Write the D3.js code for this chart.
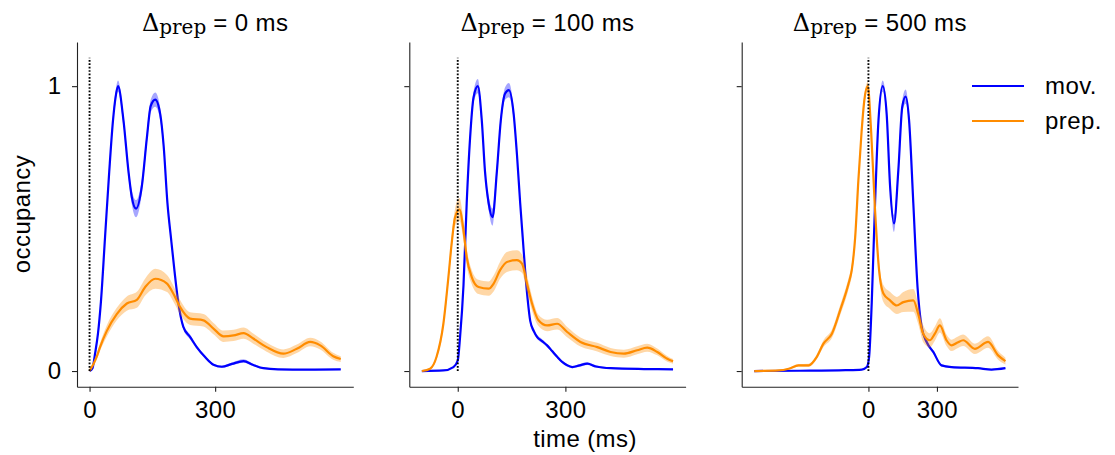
<!DOCTYPE html>
<html>
<head>
<meta charset="utf-8">
<script src="https://cdn.jsdelivr.net/npm/d3@7"></script>
<style>
  body { margin: 0; background: #fff; }
</style>
</head>
<body>
<script>
// [time (ms), occupancy, sem]
const mov0 = [[0,0,0],[7,0.01,0.002],[13,0.06,0.005],[20,0.13,0.008],[27,0.24,0.01],[37,0.47,0.012],[47,0.70,0.015],[56,0.88,0.018],[62,0.96,0.02],[68,1.0,0.02],[81,0.88,0.02],[93,0.70,0.02],[101,0.61,0.025],[111,0.57,0.03],[125,0.65,0.025],[137,0.82,0.022],[146,0.93,0.022],[157,0.953,0.025],[169,0.90,0.022],[177,0.79,0.018],[186,0.59,0.015],[195,0.46,0.012],[203,0.35,0.01],[212,0.24,0.008],[224,0.155,0.008],[240,0.12,0.008],[256,0.084,0.006],[276,0.049,0.005],[296,0.022,0.004],[316,0.015,0.004],[340,0.025,0.005],[368,0.035,0.006],[390,0.022,0.004],[415,0.01,0.003],[450,0.006,0.002],[520,0.005,0.002],[600,0.006,0.002]];
const prep0 = [[0,0,0.003],[17,0.05,0.01],[25,0.084,0.014],[41,0.14,0.02],[65,0.2,0.022],[89,0.237,0.025],[113,0.25,0.028],[133,0.295,0.03],[157,0.324,0.035],[185,0.307,0.03],[200,0.272,0.028],[216,0.225,0.025],[240,0.184,0.022],[272,0.178,0.022],[296,0.149,0.02],[320,0.122,0.02],[344,0.125,0.02],[368,0.133,0.02],[391,0.114,0.018],[423,0.084,0.016],[463,0.061,0.015],[495,0.078,0.015],[527,0.102,0.015],[551,0.09,0.014],[582,0.052,0.012],[600,0.042,0.01]];

const mov1 = [[-100,0,0],[-40,0.002,0.001],[-12,0.014,0.002],[0,0.037,0.004],[6.5,0.12,0.008],[16,0.3,0.01],[25,0.59,0.012],[34.5,0.82,0.015],[44,0.96,0.02],[56,1.0,0.025],[67,0.88,0.02],[76,0.70,0.02],[86,0.59,0.025],[97,0.54,0.03],[109,0.70,0.025],[120,0.88,0.02],[132,0.974,0.022],[142.6,0.986,0.025],[156,0.90,0.02],[165,0.76,0.018],[174,0.59,0.015],[181,0.47,0.012],[188,0.35,0.01],[195,0.25,0.01],[202,0.176,0.008],[212,0.14,0.008],[221,0.12,0.007],[235,0.105,0.007],[249,0.09,0.006],[263,0.07,0.006],[277,0.05,0.005],[291,0.032,0.004],[305,0.02,0.004],[319,0.014,0.004],[340,0.02,0.005],[361,0.026,0.005],[385,0.016,0.004],[426,0.01,0.003],[519,0.007,0.002],[600,0.006,0.002]];
const prep1 = [[-100,0,0.002],[-77,0.008,0.003],[-59,0.05,0.008],[-40,0.166,0.015],[-26,0.33,0.02],[-17,0.447,0.025],[-7.5,0.54,0.03],[4.7,0.567,0.04],[16,0.494,0.035],[25,0.40,0.03],[39,0.33,0.025],[58,0.295,0.025],[86,0.289,0.025],[100,0.307,0.028],[118,0.354,0.03],[137,0.383,0.035],[165,0.389,0.035],[179,0.377,0.032],[193,0.307,0.03],[207,0.237,0.025],[225,0.178,0.02],[249,0.16,0.02],[277,0.166,0.02],[305,0.137,0.018],[342,0.102,0.016],[389,0.084,0.015],[426,0.067,0.014],[463,0.061,0.014],[500,0.073,0.014],[528,0.082,0.014],[556,0.067,0.012],[584,0.043,0.01],[600,0.034,0.008]];

const mov2 = [[-500,0,0],[-300,0.001,0.001],[-100,0.003,0.001],[-29,0.005,0.001],[-7,0.014,0.002],[3,0.05,0.005],[14.5,0.24,0.01],[29,0.59,0.015],[44,0.88,0.018],[62.6,1.0,0.02],[80,0.90,0.02],[95,0.646,0.025],[112,0.518,0.03],[131,0.705,0.025],[148,0.927,0.022],[163,0.963,0.025],[178,0.88,0.02],[196.5,0.59,0.015],[215,0.295,0.012],[233,0.155,0.01],[255,0.102,0.008],[284,0.067,0.006],[320,0.02,0.004],[364,0.014,0.003],[480,0.01,0.002],[539,0.005,0.002],[600,0.01,0.002]];
const prep2 = [[-500,0,0.001],[-393,0.002,0.002],[-349,0.008,0.003],[-306,0.02,0.005],[-262,0.02,0.006],[-226,0.05,0.008],[-197,0.096,0.012],[-160,0.131,0.015],[-124,0.213,0.018],[-87,0.307,0.02],[-73,0.354,0.02],[-58,0.47,0.02],[-44,0.67,0.02],[-30,0.84,0.02],[-18,0.95,0.02],[-3,1.0,0.015],[11.6,0.845,0.02],[29,0.564,0.02],[46.6,0.354,0.025],[65.5,0.272,0.03],[94.6,0.248,0.03],[124,0.23,0.03],[153,0.242,0.035],[196.5,0.248,0.04],[218,0.2,0.035],[240,0.131,0.03],[269,0.108,0.025],[291,0.131,0.025],[313,0.16,0.025],[342,0.108,0.02],[364,0.09,0.02],[390,0.1,0.02],[415,0.108,0.02],[466,0.078,0.018],[524,0.102,0.02],[568,0.055,0.015],[600,0.035,0.012]];

const deltas = ['0', '100', '500'];
const movData = [mov0, mov1, mov2];
const prepData = [prep0, prep1, prep2];
const xTicks = [0, 300];
const yTicks = [0, 1];
const seriesNames = ['mov.', 'prep.'];
const colors = ['#0000ff', '#ff8c00'];

const WIDTH = 1115;
const HEIGHT = 455;
const AX_LEFT = [77, 409.3, 741.7];
const AX_W = 276.3;
const AX_TOP = 42;
const AX_BOTTOM = 386.7;
const SANS = '"Liberation Sans", Arial, sans-serif';
const SERIF = '"DejaVu Serif", serif';
const FS = 24;
const LS = 0.4;

const svg = d3.select('body').append('svg')
  .attr('width', WIDTH)
  .attr('height', HEIGHT);

// y goes 0..1.1 with 5% margins like matplotlib
const y = d3.scaleLinear()
  .domain([-0.055, 1.155])
  .range([AX_BOTTOM, AX_TOP]);

deltas.forEach((delta, i) => {
  const mov = movData[i];
  const prep = prepData[i];
  const ext = d3.extent(mov.concat(prep), d => d[0]);
  const pad = (ext[1] - ext[0]) * 0.05;
  const x = d3.scaleLinear()
    .domain([ext[0] - pad, ext[1] + pad])
    .range([AX_LEFT[i], AX_LEFT[i] + AX_W]);

  const g = svg.append('g');

  const band = d3.area()
    .x(d => x(d[0]))
    .y0(d => y(d[1] - d[2]))
    .y1(d => y(d[1] + d[2]))
    .curve(d3.curveMonotoneX);
  const line = d3.line()
    .x(d => x(d[0]))
    .y(d => y(d[1]))
    .curve(d3.curveMonotoneX);

  [mov, prep].forEach((s, k) => {
    g.append('path')
      .attr('d', band(s))
      .attr('fill', colors[k])
      .attr('fill-opacity', 0.35)
      .attr('stroke', 'none');
    g.append('path')
      .attr('d', line(s))
      .attr('fill', 'none')
      .attr('stroke', colors[k])
      .attr('stroke-width', 2.2);
  });

  // movement onset
  g.append('line')
    .attr('x1', x(0)).attr('x2', x(0))
    .attr('y1', y(0)).attr('y2', y(1.1))
    .attr('stroke', '#000')
    .attr('stroke-width', 1.9)
    .attr('stroke-dasharray', '1.7,1.7');

  const axisX = d3.axisBottom(x)
    .tickValues(xTicks)
    .tickSize(5)
    .tickSizeOuter(0)
    .tickPadding(9.3)
    .tickFormat(d3.format('d'));
  const gx = svg.append('g')
    .attr('transform', `translate(0,${AX_BOTTOM})`)
    .call(axisX);

  const axisY = d3.axisLeft(y)
    .tickValues(yTicks)
    .tickSize(5)
    .tickSizeOuter(0)
    .tickPadding(10.5)
    .tickFormat(i === 0 ? d3.format('d') : () => '');
  const gy = svg.append('g')
    .attr('transform', `translate(${AX_LEFT[i]},0)`)
    .call(axisY);

  [gx, gy].forEach(a => {
    a.selectAll('path, line').attr('stroke', '#222').attr('stroke-width', 1.1);
    a.selectAll('text')
      .attr('font-family', SANS)
      .attr('font-size', FS)
      .attr('letter-spacing', LS)
      .attr('fill', '#000');
  });

  const title = svg.append('text')
    .attr('x', AX_LEFT[i] + AX_W / 2)
    .attr('y', 30.7)
    .attr('text-anchor', 'middle')
    .attr('fill', '#000');
  title.append('tspan')
    .attr('font-family', SERIF)
    .attr('font-size', 24)
    .text('Δ');
  title.append('tspan')
    .attr('font-family', SERIF)
    .attr('font-size', 20)
    .attr('dy', 3)
    .text('prep');
  title.append('tspan')
    .attr('font-family', SANS)
    .attr('font-size', FS)
    .attr('letter-spacing', LS)
    .attr('dy', -3)
    .text(` = ${delta} ms`);
});

svg.append('text')
  .attr('transform', 'translate(30,214) rotate(-90)')
  .attr('text-anchor', 'middle')
  .attr('font-family', SANS)
  .attr('font-size', FS)
  .attr('letter-spacing', LS)
  .text('occupancy');

svg.append('text')
  .attr('x', 585)
  .attr('y', 446.5)
  .attr('text-anchor', 'middle')
  .attr('font-family', SANS)
  .attr('font-size', FS)
  .attr('letter-spacing', LS)
  .text('time (ms)');

// legend
const legend = svg.append('g');
seriesNames.forEach((name, k) => {
  const ly = 86 + k * 35;
  legend.append('line')
    .attr('x1', 972).attr('x2', 1024)
    .attr('y1', ly).attr('y2', ly)
    .attr('stroke', colors[k])
    .attr('stroke-width', 2.2);
  legend.append('text')
    .attr('x', 1045)
    .attr('y', ly)
    .attr('dy', '0.35em')
    .attr('font-family', SANS)
    .attr('font-size', FS)
    .attr('letter-spacing', LS)
    .text(name);
});
</script>
</body>
</html>
